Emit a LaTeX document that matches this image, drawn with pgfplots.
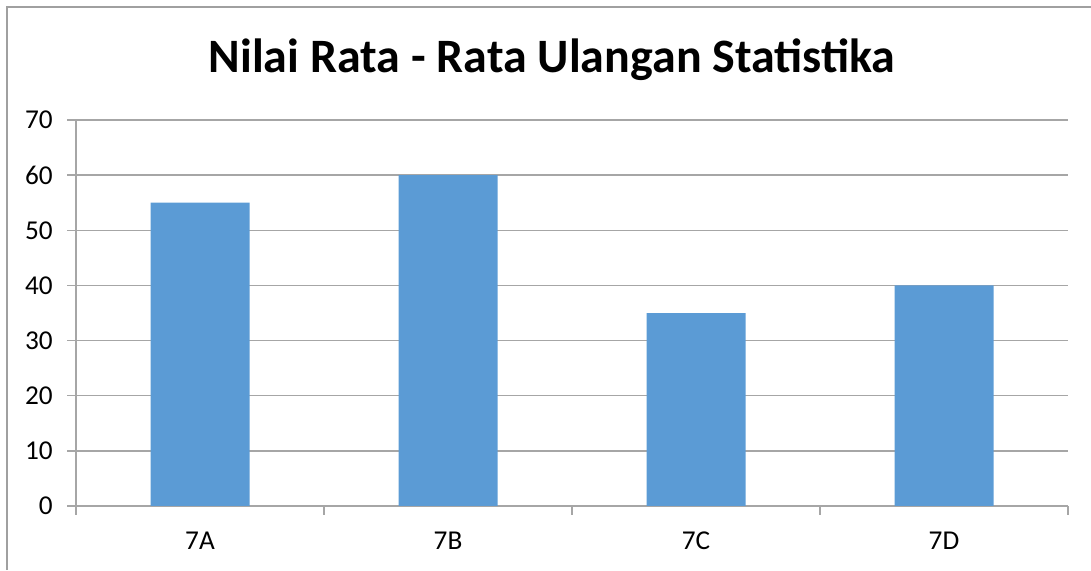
\documentclass[border=0pt]{standalone}
\usepackage{fontspec}
\setmainfont{Carlito}
\usepackage{pgfplots}
\pgfplotsset{compat=1.18}
\definecolor{barblue}{HTML}{5B9BD5}
\definecolor{gridgray}{HTML}{A6A6A6}
\definecolor{framegray}{HTML}{A0A0A0}

\begin{document}
\begin{tikzpicture}
% canvas 1091x570 px at 0.02cm per px
\path[use as bounding box] (0,0) rectangle (21.82,11.4);
\draw[framegray, line width=0.9pt] (0.14,0) -- (0.14,11.26) -- (21.82,11.26);
\node[font=\fontsize{27.3}{32}\selectfont\bfseries] at (11.04,10.2) {Nilai Rata - Rata Ulangan Statistika};
\begin{axis}[
  at={(1.52cm,1.28cm)}, anchor=south west,
  scale only axis, width=19.84cm, height=7.72cm,
  ybar, bar width=1.98cm,
  xmin=-0.5, xmax=3.5, ymin=0, ymax=70,
  xtick={-0.5,0.5,1.5,2.5,3.5}, xticklabels={},
  extra x ticks={0,1,2,3}, extra x tick labels={7A,7B,7C,7D},
  extra x tick style={major tick length=0pt, grid=none},
  ytick={0,10,...,70},
  ymajorgrids, grid style={gridgray, line width=0.8pt},
  axis x line*=bottom, axis y line*=left,
  axis line style={gridgray, line width=0.8pt},
  x axis line style={-}, y axis line style={-},
  major tick style={gridgray, line width=0.8pt},
  tick align=outside, major tick length=0.18cm,
  ticklabel style={font=\fontsize{15.5}{18}\selectfont, text=black},
  /pgf/number format/assume math mode=true,
  yticklabel style={xshift=-0.16cm},
  xticklabel style={yshift=-0.4cm},
]
\addplot[fill=barblue, draw=none] coordinates {(0,55) (1,60) (2,35) (3,40)};
\end{axis}
\end{tikzpicture}
\end{document}
